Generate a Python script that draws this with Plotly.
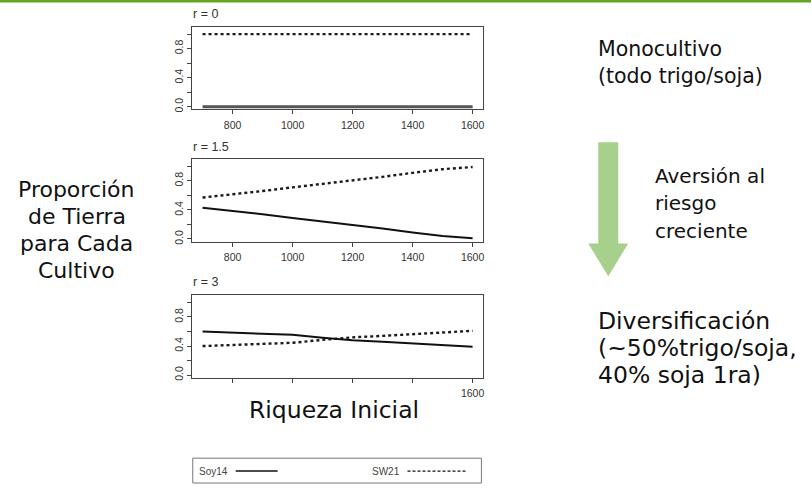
import plotly.graph_objects as go

W, H = 812, 491

# Initial wealth grid and land shares for each risk-aversion level
wealth = [700, 800, 900, 1000, 1100, 1200, 1300, 1400, 1500, 1600]

soy14_r0 = [0.0, 0.0, 0.0, 0.0, 0.0, 0.0, 0.0, 0.0, 0.0, 0.0]
sw21_r0 = [1.0, 1.0, 1.0, 1.0, 1.0, 1.0, 1.0, 1.0, 1.0, 1.0]

soy14_r15 = [0.43, 0.39, 0.34, 0.29, 0.245, 0.20, 0.145, 0.09, 0.04, 0.01]
sw21_r15 = [0.57, 0.61, 0.66, 0.71, 0.755, 0.80, 0.855, 0.91, 0.96, 0.99]

soy14_r3 = [0.60, 0.585, 0.57, 0.555, 0.515, 0.48, 0.46, 0.44, 0.415, 0.39]
sw21_r3 = [0.40, 0.415, 0.43, 0.445, 0.485, 0.52, 0.54, 0.56, 0.585, 0.61]

panel_titles = ["r = 0", "r = 1.5", "r = 3"]
x_tickvals = [800, 1000, 1200, 1400, 1600]
x_ticktext_full = ["800", "1000", "1200", "1400", "1600"]
x_ticktext_last = ["", "", "", "", "1600"]
y_tickvals = [0.0, 0.2, 0.4, 0.6, 0.8, 1.0]
y_ticktext = ["0.0", "", "0.4", "", "0.8", ""]

series_names = ["Soy14", "SW21"]

left_label = ["Proporción", "de Tierra", "para Cada", "Cultivo"]
top_note = ["Monocultivo", "(todo trigo/soja)"]
mid_note = ["Aversión al", "riesgo", "creciente"]
bottom_note = ["Diversificación", "(~50%trigo/soja,", "40% soja 1ra)"]
x_title = "Riqueza Inicial"


def px(x):
    return x / W


def py(y):
    return 1 - y / H


# pixel boxes of the three stacked panels (left, right, top, bottom)
boxes = [(192, 484, 27, 110), (192, 484, 160, 243), (192, 484, 297, 380)]
title_y = [14, 148, 284]

panels = [
    (soy14_r0, sw21_r0, x_ticktext_full),
    (soy14_r15, sw21_r15, x_ticktext_full),
    (soy14_r3, sw21_r3, x_ticktext_last),
]

AX = "#444444"
TICKFONT = dict(family="Liberation Sans, Arial", size=10.5, color="#333333")
fig = go.Figure()
layout = {}
annotations = []

for i, ((soy, sw, xt), (l, r, t, b)) in enumerate(zip(panels, boxes)):
    n = "" if i == 0 else str(i + 1)
    xa, ya = "x" + n, "y" + n
    fig.add_trace(go.Scatter(x=wealth, y=sw, mode="lines", xaxis=xa, yaxis=ya,
                             line=dict(color="#1a1a1a", width=2.4, dash="3px,3px"),
                             showlegend=False, name=series_names[1]))
    fig.add_trace(go.Scatter(x=wealth, y=soy, mode="lines", xaxis=xa, yaxis=ya,
                             line=dict(color="#555555" if i == 0 else "#111111",
                                       width=3 if i == 0 else 2),
                             showlegend=False, name=series_names[0]))
    layout["xaxis" + n] = dict(
        domain=[px(l), px(r)], anchor=ya, range=[664, 1636],
        showline=True, mirror=True, linecolor=AX, linewidth=1,
        ticks="outside", ticklen=4, tickcolor=AX, tickwidth=1,
        tickvals=x_tickvals, ticktext=xt, ticklabelstandoff=2,
        tickfont=TICKFONT, showgrid=False, zeroline=False, fixedrange=True,
    )
    layout["yaxis" + n] = dict(
        domain=[py(b), py(t)], anchor=xa, range=[-0.035, 1.1],
        showline=True, mirror=True, linecolor=AX, linewidth=1,
        ticks="outside", ticklen=4, tickcolor=AX, tickwidth=1,
        tickvals=y_tickvals, ticktext=y_ticktext, tickangle=-90,
        tickfont=TICKFONT, showgrid=False, zeroline=False, fixedrange=True,
    )
    annotations.append(dict(
        text=panel_titles[i], x=px(l - 1), y=py(title_y[i]), xref="paper", yref="paper",
        xanchor="left", yanchor="middle", showarrow=False,
        font=dict(family="Liberation Sans, Arial", size=12.5, color="#333333")))


def text_lines(lines, x, y0, step, anchor, size):
    for k, s in enumerate(lines):
        annotations.append(dict(
            text=s, x=px(x), y=py(y0 + k * step), xref="paper", yref="paper",
            xanchor=anchor, yanchor="middle", showarrow=False,
            font=dict(family="DejaVu Sans, Verdana", size=size, color="#111111")))


text_lines(left_label, 77, 191, 27, "center", 22)
text_lines(top_note, 597, 49, 27, "left", 20.5)
text_lines(mid_note, 654, 177, 27.5, "left", 20)
text_lines(bottom_note, 597, 323, 27, "left", 23.5)
text_lines([x_title], 334, 413, 0, "center", 23.5)

# legend strip under the panels
LEG = dict(family="Liberation Sans, Arial", size=10, color="#444444")
annotations.append(dict(text=series_names[0], x=px(197), y=py(474), xref="paper", yref="paper",
                        xanchor="left", yanchor="middle", showarrow=False, font=LEG))
annotations.append(dict(text=series_names[1], x=px(370), y=py(474), xref="paper", yref="paper",
                        xanchor="left", yanchor="middle", showarrow=False, font=LEG))

arrow_path = "M{a},{t} L{b},{t} L{b},{m} L{c},{m} L{d},{tip} L{e},{m} L{a2},{m} Z".format(
    a=px(599), b=px(619), t=py(143), m=py(245), c=px(629), d=px(609),
    tip=py(278), e=px(589), a2=px(599))

shapes = [
    # green rule along the top edge
    dict(type="rect", xref="paper", yref="paper", x0=0, x1=1, y0=py(2.5), y1=1,
         fillcolor="#62a420", line=dict(width=0)),
    # downward arrow
    dict(type="path", xref="paper", yref="paper", path=arrow_path,
         fillcolor="#a8d08d", line=dict(width=0)),
    # legend frame and keys
    dict(type="rect", xref="paper", yref="paper", x0=px(193), x1=px(482),
         y0=py(486), y1=py(461), line=dict(color="#777777", width=1)),
    dict(type="line", xref="paper", yref="paper", x0=px(236), x1=px(278),
         y0=py(474), y1=py(474), line=dict(color="#111111", width=1.5)),
    dict(type="line", xref="paper", yref="paper", x0=px(408), x1=px(466),
         y0=py(474), y1=py(474), line=dict(color="#111111", width=1.2, dash="3px,2px")),
]

fig.update_layout(
    width=W, height=H, margin=dict(l=0, r=0, t=0, b=0),
    paper_bgcolor="white", plot_bgcolor="white",
    annotations=annotations, shapes=shapes, showlegend=False,
    **layout,
)

fig.write_html("out.html", config={"displayModeBar": False})
